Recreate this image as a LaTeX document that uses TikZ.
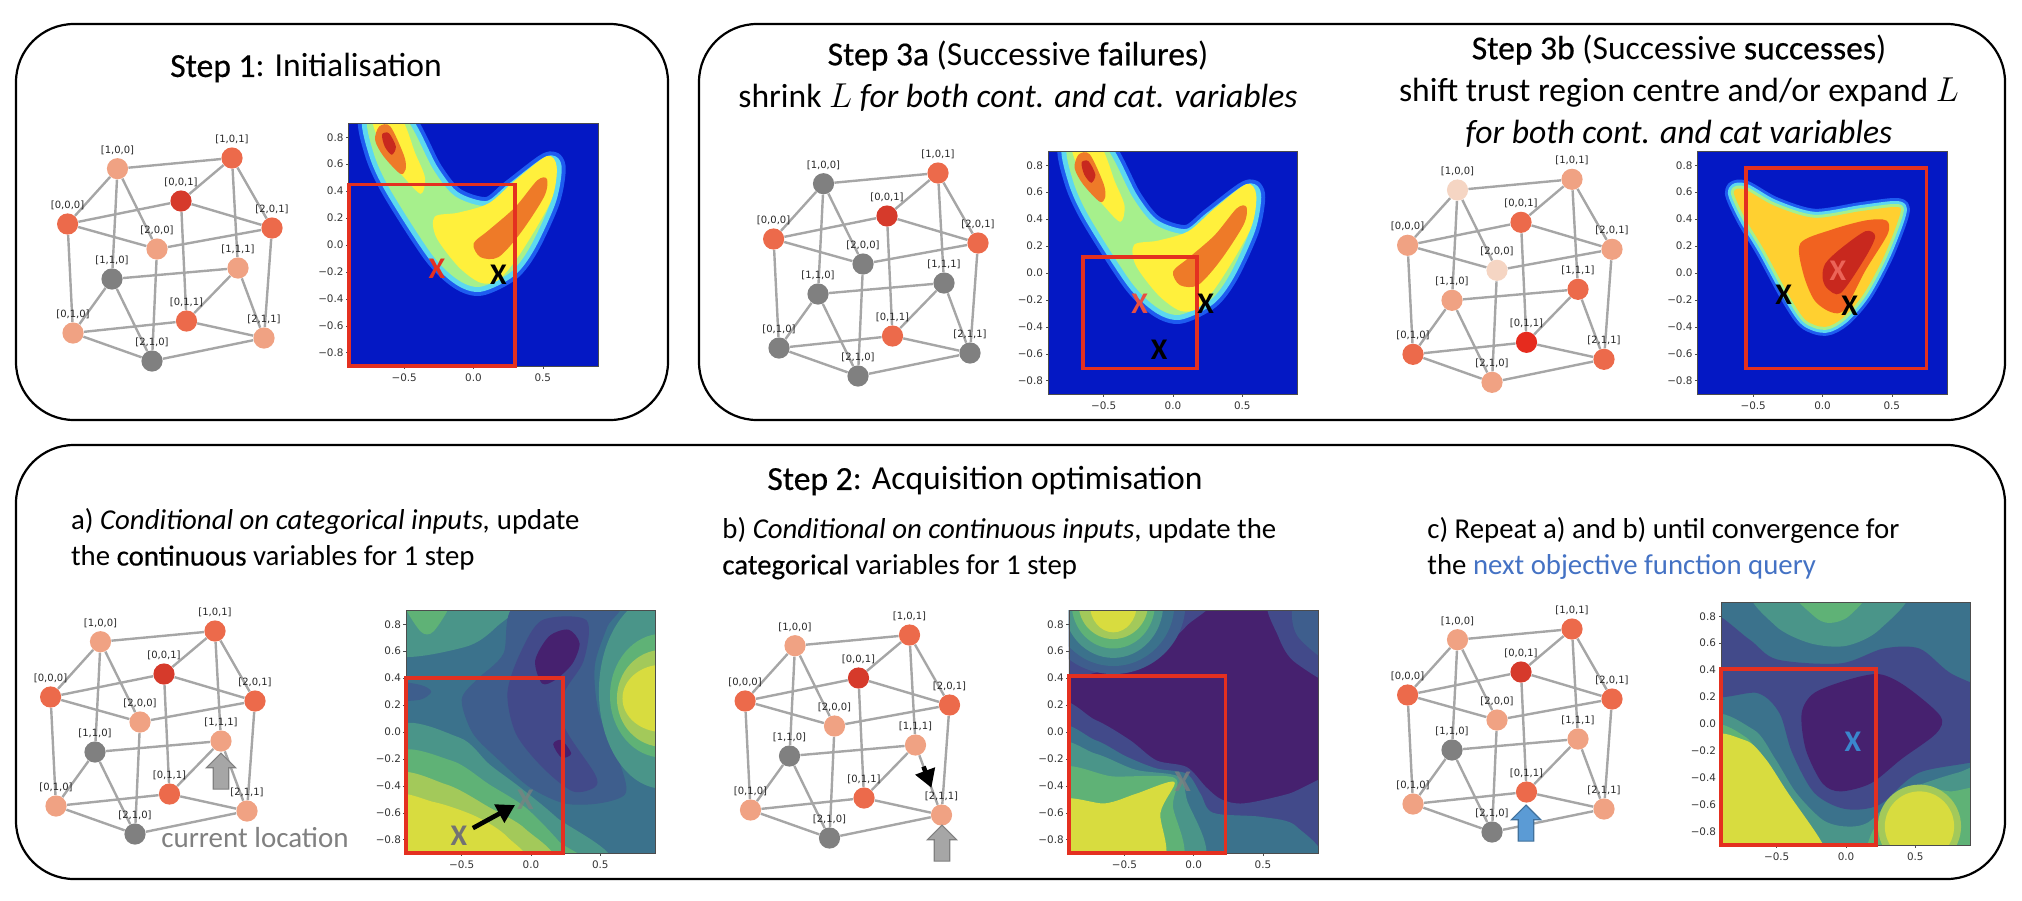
\documentclass[tikz,border=0pt]{standalone}
\usepackage{amsmath,amssymb}
\usepackage{fontspec}
\setmainfont{Carlito}
\newfontfamily\plotfont{DejaVu Sans}
\newfontfamily\strongfont[FakeBold=0.5]{Carlito}
\newcommand{\hvy}[1]{{\strongfont #1}}
\usetikzlibrary{arrows.meta,shapes.arrows,backgrounds}

\definecolor{lev0}{HTML}{808080}
\definecolor{lev1}{HTML}{F0A283}
\definecolor{lev2}{HTML}{EC6A4B}
\definecolor{lev3}{HTML}{D63A2B}
\definecolor{lev4}{HTML}{F5D5C3}
\definecolor{lev6}{HTML}{E62B1E}
\definecolor{jetbg}{HTML}{0418C4}
\definecolor{jetblue}{HTML}{1E5CF0}
\definecolor{jetcyan}{HTML}{5CD8F0}
\definecolor{jetgreen}{HTML}{A6F08C}
\definecolor{jetyel}{HTML}{FFF03C}
\definecolor{jetgold}{HTML}{FFD030}
\definecolor{jetorg}{HTML}{EE7A28}
\definecolor{jetred}{HTML}{C8281E}
\definecolor{vA}{HTML}{46216F}
\definecolor{vB}{HTML}{424A8A}
\definecolor{vBC}{HTML}{3E5E8D}
\definecolor{vC}{HTML}{3B728C}
\definecolor{vD}{HTML}{4A9589}
\definecolor{vE}{HTML}{5FB276}
\definecolor{vF}{HTML}{A3C95A}
\definecolor{vG}{HTML}{D8DC3F}
\definecolor{boxred}{HTML}{E43020}
\definecolor{qblue}{HTML}{4472C4}
\definecolor{upblue}{HTML}{5B9BD5}
\definecolor{upblueline}{HTML}{41719C}

\tikzset{
  panel/.style={draw=black,line width=1.1pt,rounded corners=29pt},
  gnode/.style={circle,minimum size=10.6pt,inner sep=0pt},
  gedge/.style={draw=black!35,line width=1.2pt},
  gtext/.style={font=\plotfont\fontsize{5}{5}\selectfont,text=black!85,inner sep=0pt,label distance=1.3pt},
  tick/.style={font=\plotfont\fontsize{5.2}{5.2}\selectfont,text=black!80,inner sep=0pt},
  trbox/.style={draw=boxred,line width=1.8pt},
  xmark/.style={font=\fontsize{15}{15}\selectfont\bfseries,inner sep=0pt},
  head/.style={font=\fontsize{16.8}{21}\selectfont,align=center,inner sep=0pt},
  body/.style={font=\fontsize{14.4}{17.8}\selectfont,align=left,anchor=west,inner sep=0pt},
  uparrow/.style={single arrow,rotate=90,minimum height=18pt,minimum width=0pt,
    single arrow head extend=3.4pt,inner xsep=0pt,inner ysep=3.6pt,line width=.6pt},
  movearrow/.style={-{Triangle[length=9pt,width=10pt]},line width=2.3pt,black},
}

\newcommand{\cubegraph}[2]{
  \foreach \na/\nb/\nc/\nx/\ny [count=\ni from 0] in {
      1/0/0/117.5/168.7, 1/0/1/232/158, 0/0/1/181/201, 0/0/0/67.6/224,
      2/0/1/272/228, 2/0/0/157/249, 1/1/1/238/268, 1/1/0/112/279,
      0/1/1/186.5/321, 0/1/0/73/333, 2/1/1/264/338, 2/1/0/152/361} {
    \pgfmathtruncatemacro{\nlev}{{#2}[\ni]}
    \node[gnode,fill=lev\nlev,label={[gtext]above:{[\na,\nb,\nc]}}] (#1\na\nb\nc) at (\nx,\ny) {};
  }
  \begin{pgfonlayer}{background}
    \foreach \a/\b in {100/101,100/000,100/200,100/110,101/001,101/201,101/111,
        001/000,001/201,001/011,000/200,000/010,201/200,201/211,200/210,110/111,
        110/010,110/210,111/011,111/211,011/010,011/211,010/210,210/211}
      \draw[gedge] (#1\a) -- (#1\b);
  \end{pgfonlayer}
}

\newcommand{\plotframe}[1]{
  \draw[black!70,line width=.3pt] (-.9,-.9) rectangle (.9,.9);
  \foreach \yv/\yl in {.8/0.8,.6/0.6,.4/0.4,.2/0.2,0/0.0,-.2/−0.2,-.4/−0.4,-.6/−0.6,-.8/−0.8} {
    \draw[black!70,line width=.3pt] (-.9,\yv) -- ++(-.02,0);
    \node[tick,anchor=east] (#1y\yl) at (-.935,\yv) {\yl};
  }
  \foreach \xv/\xl in {-.5/−0.5,0/0.0,.5/0.5} {
    \draw[black!70,line width=.3pt] (\xv,-.9) -- ++(0,-.02);
    \node[tick,anchor=north] (#1x\xl) at (\xv,-.95) {\xl};
  }
}

\newcommand{\bananamap}{
  \fill[jetbg] (-.9,-.9) rectangle (.9,.9);
  \def\bananaline{plot[smooth cycle] coordinates {(-.76,.95) (-.5,.95) (-.29,.56) (-.13,.36) (.1,.29) (.27,.42) (.53,.62)
      (.6,.58) (.56,.33) (.41,-.01) (.27,-.2) (.05,-.31) (-.11,-.26) (-.3,-.07) (-.6,.41) (-.72,.68)}}
  \draw[jetblue,line width=9pt,line join=round] \bananaline;
  \draw[jetcyan,line width=5pt,line join=round] \bananaline;
  \fill[jetgreen] \bananaline;
  \fill[jetyel] plot[smooth cycle] coordinates {(-.73,.95) (-.53,.95) (-.42,.68) (-.35,.5) (-.38,.38) (-.5,.5) (-.64,.68)};
  \fill[jetyel] plot[smooth cycle] coordinates {(-.28,.21) (-.11,.24) (.11,.31) (.3,.48) (.53,.66) (.6,.58) (.56,.33)
      (.34,-.06) (.18,-.26) (.05,-.28) (-.11,-.16) (-.27,.06)};
  \fill[jetorg] plot[smooth cycle] coordinates {(0,.01) (.11,.11) (.3,.28) (.46,.48) (.53,.49) (.51,.36) (.34,.09) (.18,-.09) (.05,-.09)};
  \fill[jetorg] plot[smooth cycle] coordinates {(-.68,.88) (-.6,.88) (-.5,.66) (-.49,.56) (-.53,.53) (-.65,.66) (-.71,.78)};
  \fill[jetred] plot[smooth cycle] coordinates {(-.66,.82) (-.61,.83) (-.56,.73) (-.59,.67) (-.64,.73)};
}

\begin{document}
\begin{tikzpicture}[x=.5pt,y=-.5pt]
  \useasboundingbox (0,0) rectangle (2022,900);

  \draw[panel] (16,24) rectangle (668,420);
  \draw[panel] (699,24) rectangle (2005,420);
  \draw[panel] (16,445) rectangle (2005,879);

  \node[head] (titlea) at (306,68) {\hvy{Step 1}: Initialisation};
  \node[head] (titleb) at (1018,76) {\hvy{Step 3a} (Successive \hvy{failures})\\shrink $L$ \textit{for both cont. and cat. variables}};
  \node[head] (titlec) at (1679,91) {\hvy{Step 3b} (Successive \hvy{successes})\\shift trust region centre and/or expand $L$\\\textit{for both cont. and cat variables}};
  \node[head] (titled) at (985,481) {\hvy{Step 2}: Acquisition optimisation};

  \node[body] (texta) at (70.7,539.5) {a) \textit{Conditional on categorical inputs,} update\\the \hvy{continuous} variables for 1 step};
  \node[body] (textb) at (722,548.5) {b) \textit{Conditional on continuous inputs}, update the\\\hvy{categorical} variables for 1 step};
  \node[body] (textc) at (1427,548.5) {\makebox[236pt][s]{c) Repeat a) and b) until convergence for}\\the \textcolor{qblue}{next objective function query}};

  \begin{scope}
    \cubegraph{ga}{1,2,3,2,2,1,1,0,2,1,1,0}
  \end{scope}
  \begin{scope}[shift={(706,15)}]
    \cubegraph{gb}{0,2,3,2,2,0,0,0,2,0,0,0}
  \end{scope}
  \begin{scope}[shift={(1340,21.3)}]
    \cubegraph{gc}{4,1,2,1,1,4,2,1,6,2,2,1}
  \end{scope}
  \begin{scope}[shift={(-17,473)}]
    \cubegraph{gd}{1,2,3,2,2,1,1,0,2,1,1,0}
  \end{scope}
  \begin{scope}[shift={(677.5,477)}]
    \cubegraph{ge}{1,2,3,2,2,1,1,0,2,1,1,0}
  \end{scope}
  \begin{scope}[shift={(1340,471)}]
    \cubegraph{gf}{1,2,3,2,2,1,1,0,2,1,1,0}
  \end{scope}

  \draw[movearrow,shorten <=6pt,shorten >=9pt] (ge111) -- (ge211);
  \node[uparrow,fill=black!35,draw=black!50] (upa) at (221,775) {};
  \node[uparrow,fill=black!35,draw=black!50] (upb) at (942,847) {};
  \node[uparrow,fill=upblue,draw=upblueline] (upc) at (1526,827) {};
  \node[font=\fontsize{14.5}{14.5}\selectfont,text=black!50,inner sep=0pt] (curloc) at (255,838) {current location};

  \begin{scope}[shift={(473.5,245)},x=69.3pt,y=67.35pt]
    \begin{scope}
      \clip (-.9,-.9) rectangle (.9,.9);
      \bananamap
    \end{scope}
    \plotframe{pa}
    \draw[trbox] (-.9,-.9) rectangle (.3,.45);
    \node[xmark,text=boxred] (xaa) at (-.265,-.18) {X};
    \node[xmark,text=black] (xab) at (.18,-.22) {X};
  \end{scope}

  \begin{scope}[shift={(1173,273)},x=69.3pt,y=67.35pt]
    \begin{scope}
      \clip (-.9,-.9) rectangle (.9,.9);
      \bananamap
    \end{scope}
    \plotframe{pb}
    \draw[trbox] (-.65,-.71) rectangle (.175,.12);
    \node[xmark,text=boxred!85!white] (xba) at (-.24,-.23) {X};
    \node[xmark,text=black] (xbb) at (.235,-.23) {X};
    \node[xmark,text=black] (xbc) at (-.1,-.57) {X};
  \end{scope}

  \begin{scope}[shift={(1822.5,273)},x=69.3pt,y=67.35pt]
    \begin{scope}
      \clip (-.9,-.9) rectangle (.9,.9);
      \fill[jetbg] (-.9,-.9) rectangle (.9,.9);
      \def\peakline{plot[smooth cycle] coordinates {(-.64,.6) (-.56,.62) (-.35,.5) (-.06,.41) (.28,.46) (.53,.49) (.56,.44)
          (.45,.14) (.3,-.15) (.15,-.33) (.02,-.4) (-.12,-.35) (-.24,-.17) (-.42,.17) (-.56,.41)}}
      \draw[jetblue,line width=9pt,line join=round] \peakline;
      \draw[jetcyan,line width=6pt,line join=round] \peakline;
      \draw[jetgreen,line width=3pt,line join=round] \peakline;
      \fill[jetgold] \peakline;
      \fill[jetorg!80!red] plot[smooth cycle] coordinates {(-.16,.22) (.06,.32) (.31,.39) (.46,.39) (.47,.29) (.31,.02) (.16,-.27) (.06,-.29) (-.06,-.2) (-.14,0)};
      \fill[jetred] plot[smooth cycle] coordinates {(.02,.07) (.13,.18) (.31,.31) (.38,.27) (.3,.1) (.13,-.15) (.03,-.11) (0,-.03)};
    \end{scope}
    \plotframe{pc}
    \draw[trbox] (-.55,-.71) rectangle (.75,.78);
    \node[xmark,text=boxred!75!white] (xca) at (.11,.02) {X};
    \node[xmark,text=black] (xcb) at (-.28,-.16) {X};
    \node[xmark,text=black] (xcc) at (.195,-.245) {X};
  \end{scope}

  \begin{scope}[shift={(531,732)},x=69.3pt,y=67.35pt]
    \begin{scope}
      \clip (-.9,-.9) rectangle (.9,.9);
      \fill[vC] (-.9,-.9) rectangle (.9,.9);
      \fill[vD] plot[smooth cycle] coordinates {(-1,.58) (-.48,.63) (-.25,.78) (-.1,1) (-1,1.1)};
      \fill[vE] plot[smooth cycle] coordinates {(-.92,1) (-.8,.75) (-.7,.75) (-.58,1)};
      \fill[vBC] plot[smooth cycle] coordinates {(-.1,.95) (.62,.95) (.55,.78) (.46,.49) (.49,.14) (.65,-.26) (.68,-.46) (.49,-.53) (.24,-.53)
          (-.01,-.41) (-.23,-.21) (-.42,-.01) (-.5,.24) (-.39,.39) (-.2,.58)};
      \fill[vBC] plot[smooth cycle] coordinates {(-1,.37) (-.8,.35) (-.72,.3) (-.8,.24) (-1,.24)};
      \fill[vB] plot[smooth cycle] coordinates {(-.08,.58) (.08,.83) (.4,.83) (.38,.53) (.24,.29) (.24,.04) (.46,-.31) (.46,-.41) (.3,-.44)
          (.08,-.26) (-.11,-.01) (-.17,.29)};
      \fill[vA] plot[smooth cycle] coordinates {(.03,.53) (.13,.71) (.27,.76) (.35,.66) (.3,.51) (.18,.39) (.08,.36)};
      \fill[vA] plot[smooth cycle] coordinates {(.16,-.09) (.22,-.06) (.29,-.16) (.22,-.19)};
      \fill[vD] (.95,.3) ellipse (.46 and .72);
      \fill[vE] (.95,.27) ellipse (.38 and .46);
      \fill[vF] (.95,.25) ellipse (.33 and .36);
      \fill[vG] (.95,.25) ellipse (.29 and .25);
      \fill[vD] plot[smooth cycle] coordinates {(-1,0) (-.52,-.04) (-.3,-.24) (-.08,-.41) (.18,-.63) (.55,-1) (-1,-1.2)};
      \fill[vE] plot[smooth cycle] coordinates {(-1,-.19) (-.58,-.21) (-.3,-.39) (-.04,-.56) (.2,-.81) (.33,-1) (-1,-1.2)};
      \fill[vF] plot[smooth cycle] coordinates {(-1,-.34) (-.61,-.39) (-.3,-.56) (-.04,-.72) (.14,-1) (-1,-1.2)};
      \fill[vG] plot[smooth cycle] coordinates {(-1,-.5) (-.7,-.52) (-.39,-.63) (-.17,-.78) (-.06,-1) (-1,-1.2)};
    \end{scope}
    \plotframe{pd}
    \draw[trbox] (-.9,-.9) rectangle (.23,.4);
    \node[xmark,text=black!55] (xda) at (-.52,-.77) {X};
    \node[xmark,text=black!50,opacity=.7] (xdb) at (-.04,-.5) {X};
    \draw[movearrow,shorten <=3pt,shorten >=1pt] (xda) -- (xdb);
  \end{scope}

  \begin{scope}[shift={(1193.7,732)},x=69.3pt,y=67.35pt]
    \begin{scope}
      \clip (-.9,-.9) rectangle (.9,.9);
      \fill[vA] (-.9,-.9) rectangle (.9,.9);
      \fill[vB] plot[smooth cycle] coordinates {(-1,.44) (-.52,.49) (-.27,.59) (-.05,.79) (.09,1) (-1,1.1)};
      \fill[vBC] (-.58,.95) ellipse (.52 and .52);
      \fill[vC] (-.58,.95) ellipse (.44 and .46);
      \fill[vD] (-.58,.95) ellipse (.36 and .4);
      \fill[vE] (-.58,.95) ellipse (.3 and .33);
      \fill[vF] (-.58,.95) ellipse (.25 and .26);
      \fill[vG] (-.58,.95) ellipse (.17 and .21);
      \fill[vB] plot[smooth cycle] coordinates {(.55,1) (.61,.71) (.74,.51) (1.1,.36) (1.1,1.1)};
      \fill[vBC] plot[smooth cycle] coordinates {(.74,1) (.75,.71) (1.1,.48) (1.1,1.1)};
      \fill[vB] plot[smooth cycle] coordinates {(-1,.17) (-.71,.09) (-.46,-.06) (-.27,-.21) (-.05,-.26) (.09,-.41) (.2,-.5) (.36,-.53) (.68,-.46) (1.1,-.33) (1.1,-1.1) (-1,-1.1)};
      \fill[vC] plot[smooth cycle] coordinates {(-1,-.01) (-.71,-.06) (-.49,-.18) (-.27,-.27) (-.05,-.31) (.05,-.46) (.14,-.6) (.49,-.63) (.74,-.7) (.83,-1) (-1,-1.2)};
      \fill[vD] plot[smooth cycle] coordinates {(-1,-.13) (-.71,-.16) (-.42,-.28) (-.11,-.33) (-.05,-.5) (.05,-1) (-1,-1.2)};
      \fill[vE] plot[smooth cycle] coordinates {(-1,-.3) (-.58,-.33) (-.14,-.34) (-.15,-.55) (-.11,-1) (-1,-1.2)};
      \fill[vG] plot[smooth cycle] coordinates {(-1,-.53) (-.64,-.53) (-.42,-.46) (-.14,-.37) (-.24,-.6) (-.24,-1) (-1,-1.2)};
    \end{scope}
    \plotframe{pe}
    \draw[trbox] (-.9,-.9) rectangle (.23,.415);
    \node[xmark,text=black!50,opacity=.75] (xea) at (-.08,-.37) {X};
  \end{scope}

  \begin{scope}[shift={(1846,724)},x=69.3pt,y=67.35pt]
    \begin{scope}
      \clip (-.9,-.9) rectangle (.9,.9);
      \fill[vC] (-.9,-.9) rectangle (.9,.9);
      \fill[vD] plot[smooth cycle] coordinates {(-.65,1) (-.51,.73) (-.26,.6) (0,.58) (.24,.7) (.42,1)};
      \fill[vE] plot[smooth cycle] coordinates {(-.38,1) (-.23,.8) (-.12,.75) (.02,.8) (.15,1)};
      \fill[vB] plot[smooth cycle] coordinates {(-1,.82) (-.7,.63) (-.5,.48) (-.04,.45) (.27,.56) (.53,.56) (.75,.38) (1.1,.18) (1.1,-.22) (.53,-.36)
          (.24,-.6) (-.01,-.63) (-.23,-.51) (-.39,-.21) (-.48,.08) (-.64,.23) (-1,.23)};
      \fill[vA] plot[smooth cycle] coordinates {(-.32,.08) (-.23,.23) (.02,.33) (.24,.37) (.43,.28) (.68,.06) (.65,-.07) (.4,-.26) (.18,-.44) (-.04,-.5) (-.17,-.44) (-.29,-.19)};
      \fill[vD] plot[smooth cycle] coordinates {(-1,.01) (-.67,-.04) (-.51,-.26) (-.36,-.51) (-.17,-.71) (-.01,-.76) (.16,-.73) (.4,-.51) (.81,-.36) (1.1,-.32) (1.1,-1.2) (-1,-1.2)};
      \fill[vE] plot[smooth cycle] coordinates {(-1,-.07) (-.72,-.1) (-.57,-.35) (-.42,-.6) (-.25,-.8) (-.1,-1) (.1,-1) (.2,-.78) (.35,-.6) (.55,-.47) (.75,-.5) (1.1,-.5) (1.1,-1.2) (-1,-1.2)};
      \fill[vF] (.53,-.76) ellipse (.3 and .31);
      \fill[vG] (.53,-.76) ellipse (.25 and .26);
      \fill[vG] plot[smooth cycle] coordinates {(-1,-.15) (-.73,-.12) (-.58,-.26) (-.42,-.51) (-.18,-.87) (-.17,-1) (-1,-1.2)};
    \end{scope}
    \plotframe{pf}
    \draw[trbox] (-.9,-.9) rectangle (.217,.41);
    \node[xmark,text=qblue!85!cyan] (xfa) at (.05,-.135) {X};
  \end{scope}
\end{tikzpicture}
\end{document}
